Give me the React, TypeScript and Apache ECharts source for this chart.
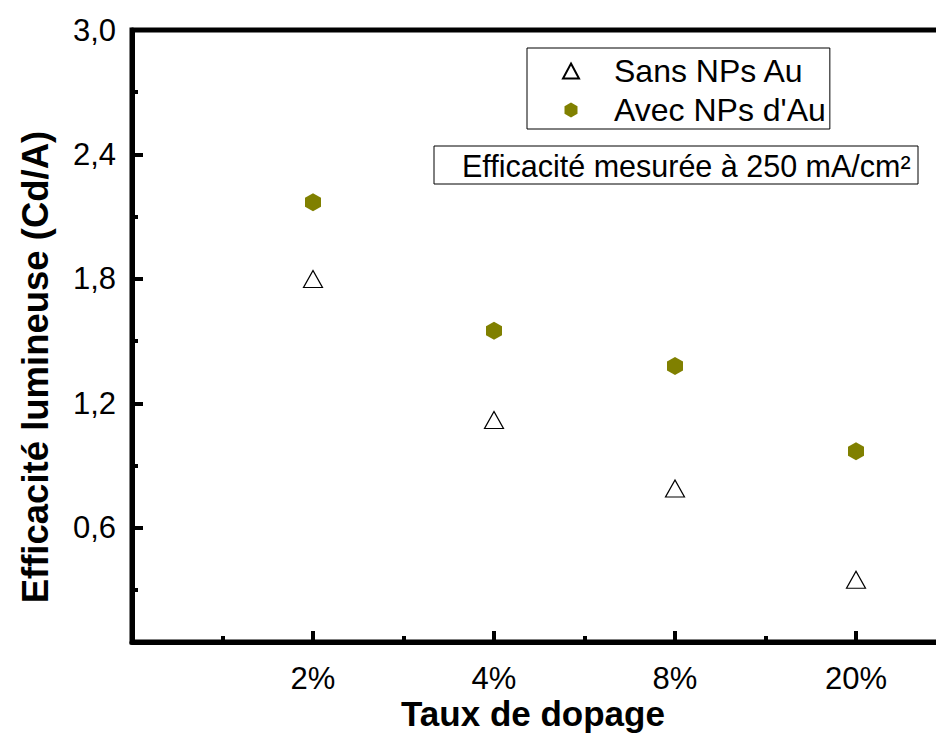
import React, { useEffect, useRef } from 'react';
import * as echarts from 'echarts';

const categories = ['2%', '4%', '8%', '20%'];
const sansNPs = [1.80, 1.12, 0.79, 0.35];
const avecNPs = [2.17, 1.55, 1.38, 0.97];
const yMajorTicks = [0.6, 1.2, 1.8, 2.4, 3.0];
const yMinorTicks = [0.3, 0.9, 1.5, 2.1, 2.7];
const xMajorTicks = [1, 2, 3, 4];
const xMinorTicks = [0.5, 1.5, 2.5, 3.5, 4.5];
const seriesNames = ['Sans NPs Au', "Avec NPs d'Au"];
const xTitle = 'Taux de dopage';
const yTitle = 'Efficacité lumineuse (Cd/A)';
const note = 'Efficacité mesurée à 250 mA/cm²';

const FONT = 'Arial, "Liberation Sans", Helvetica, sans-serif';
const HEX = 'path://M0,-1L0.866,-0.5L0.866,0.5L0,1L-0.866,0.5L-0.866,-0.5Z';

export default function App() {
  const ref = useRef<HTMLDivElement>(null);
  useEffect(() => {
    if (!ref.current) return;
    const chart = echarts.init(ref.current, null, { renderer: 'svg' });
    const axisBase = { type: 'value', splitLine: { show: false } };
    chart.setOption({
      animation: false,
      backgroundColor: '#fff',
      grid: {
        left: 132, right: -101, top: 30, bottom: 91,
        show: true, borderColor: '#000', borderWidth: 5,
        containLabel: false, outerBoundsMode: 'none',
      },
      xAxis: [
        {
          ...axisBase, position: 'bottom', min: 0, max: 5,
          axisLine: { show: true, onZero: false, lineStyle: { color: '#000', width: 5 } },
          axisTick: { show: true, inside: true, length: 11, lineStyle: { color: '#000', width: 4 }, customValues: xMajorTicks },
          axisLabel: {
            show: true, customValues: xMajorTicks, color: '#000', fontSize: 31, fontFamily: FONT, margin: 21,
            formatter: (v: number) => categories[Math.round(v) - 1] ?? '',
          },
        },
        {
          ...axisBase, position: 'bottom', min: 0, max: 5,
          axisLine: { show: false, onZero: false },
          axisTick: { show: true, inside: true, length: 6, lineStyle: { color: '#000', width: 4 }, customValues: xMinorTicks },
          axisLabel: { show: false },
        },
      ],
      yAxis: [
        {
          ...axisBase, position: 'left', min: 0.05, max: 3.0,
          axisLine: { show: true, onZero: false, lineStyle: { color: '#000', width: 5 } },
          axisTick: { show: true, inside: true, length: 11, lineStyle: { color: '#000', width: 4 }, customValues: yMajorTicks },
          axisLabel: {
            show: true, customValues: yMajorTicks, color: '#000', fontSize: 31, fontFamily: FONT, margin: 16,
            formatter: (v: number) => v.toFixed(1).replace('.', ','),
          },
        },
        {
          ...axisBase, position: 'left', min: 0.05, max: 3.0,
          axisLine: { show: false, onZero: false },
          axisTick: { show: true, inside: true, length: 6, lineStyle: { color: '#000', width: 4 }, customValues: yMinorTicks },
          axisLabel: { show: false },
        },
      ],
      legend: {
        orient: 'vertical', left: 527, top: 48,
        borderColor: '#000', borderWidth: 1, backgroundColor: '#fff',
        padding: [7, 4, 3, 35], itemGap: 7, itemWidth: 16, itemHeight: 15,
        selectedMode: false,
        textStyle: { fontSize: 32, color: '#000', fontFamily: FONT, padding: [0, 0, 0, 30] },
        data: seriesNames,
      },
      series: [
        {
          name: seriesNames[0], type: 'scatter', xAxisIndex: 0, yAxisIndex: 0,
          symbol: 'triangle', symbolSize: [19, 17],
          itemStyle: { color: '#fff', borderColor: '#000', borderWidth: 1.2, opacity: 1 },
          data: categories.map((_, i) => [xMajorTicks[i], sansNPs[i]]),
        },
        {
          name: seriesNames[1], type: 'scatter', xAxisIndex: 0, yAxisIndex: 0,
          symbol: HEX, symbolSize: [16, 18],
          itemStyle: { color: '#808000', opacity: 1 },
          data: categories.map((_, i) => [xMajorTicks[i], avecNPs[i]]),
        },
      ],
      graphic: [
        {
          type: 'rect', shape: { x: 434, y: 146, width: 484, height: 38 },
          style: { fill: '#fff', stroke: '#000', lineWidth: 1 },
        },
        {
          type: 'text', x: 462, y: 166,
          style: { text: note, fontSize: 30.5, fontFamily: FONT, fill: '#000', verticalAlign: 'middle', align: 'left' },
        },
        {
          type: 'text', x: 533, y: 713,
          style: { text: xTitle, fontSize: 35, fontWeight: 'bold', fontFamily: FONT, fill: '#000', align: 'center', verticalAlign: 'middle' },
        },
        {
          type: 'text', x: 35, y: 367, rotation: Math.PI / 2,
          style: { text: yTitle, fontSize: 36.5, fontWeight: 'bold', fontFamily: FONT, fill: '#000', align: 'center', verticalAlign: 'middle' },
        },
      ],
    });
    return () => chart.dispose();
  }, []);
  return <div ref={ref} style={{ position: 'fixed', left: 0, top: 0, width: 936, height: 733 }} />;
}
